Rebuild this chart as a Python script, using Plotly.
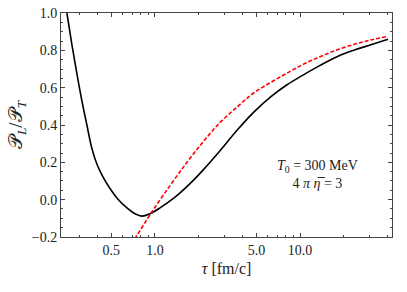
import plotly.graph_objects as go

# Black solid curve
tau_black = [0.247, 0.2677, 0.2898, 0.3138, 0.3397, 0.3677, 0.3981, 0.4378, 0.4895, 0.5556, 0.641, 0.7278,
             0.8134, 0.9237, 1.083, 1.374, 1.743, 2.143, 2.808, 3.678, 4.742, 6.211, 8.137, 10.49,
             13.74, 17.99, 23.95, 30.39, 40.45]
pl_pt_black = [1.0, 0.8286, 0.6727, 0.5273, 0.3974, 0.2727, 0.1896, 0.1221, 0.0597, 0.0026, -0.0442, -0.0753,
               -0.0883, -0.0753, -0.0442, 0.013, 0.0857, 0.1584, 0.2623, 0.3714, 0.4649, 0.5481, 0.6156, 0.6675,
               0.7195, 0.7662, 0.8026, 0.8286, 0.8597]

# Red dashed curve
tau_red = [0.651, 0.7396, 0.9237, 1.269, 1.662, 2.143, 2.808, 3.678, 4.742, 6.211, 8.137, 10.49,
           13.74, 17.99, 23.95, 30.39, 40.45]
pl_pt_red = [-0.262, -0.2, -0.0805, 0.0753, 0.2, 0.3091, 0.413, 0.4961, 0.5688, 0.626, 0.6779, 0.7247,
             0.7662, 0.8026, 0.8338, 0.8545, 0.8753]

x_ticks = [0.5, 1.0, 5.0, 10.0]
x_tick_labels = ["0.5", "1.0", "5.0", "10.0"]
x_minor = [0.3, 0.4, 0.6, 0.7, 0.8, 0.9, 2, 3, 4, 6, 7, 8, 9, 20, 30, 40]
y_ticks = [-0.2, 0.0, 0.2, 0.4, 0.6, 0.8, 1.0]
y_tick_labels = ["\u22120.2", "0.0", "0.2", "0.4", "0.6", "0.8", "1.0"]

fig = go.Figure()
fig.add_trace(go.Scatter(x=tau_black, y=pl_pt_black, mode="lines",
                         line=dict(color="black", width=1.6, shape="spline", smoothing=1.0)))
fig.add_trace(go.Scatter(x=tau_red, y=pl_pt_red, mode="lines",
                         line=dict(color="#ff0000", width=1.6, dash="4px,2px", shape="spline", smoothing=1.0)))

serif = "Liberation Serif"
axis_font = dict(family=serif, size=14, color="#222")
fig.update_xaxes(type="log", range=[-0.648, 1.634], tickvals=x_ticks, ticktext=x_tick_labels,
                 ticks="inside", ticklen=4, tickcolor="#444", showline=True, linecolor="#444",
                 linewidth=1, mirror="ticks", showgrid=False, zeroline=False, tickfont=axis_font,
                 ticklabeloverflow="allow",
                 minor=dict(tickvals=x_minor, ticks="inside", ticklen=2, tickcolor="#444", showgrid=False),
                 title=dict(text="<i>\u03c4</i> [fm/c]", font=dict(family=serif, size=16, color="#222"), standoff=6))
fig.update_yaxes(range=[-0.2001, 1.0001], tickvals=y_ticks, ticktext=y_tick_labels,
                 ticks="inside", ticklen=4, tickcolor="#444", showline=True, linecolor="#444",
                 linewidth=1, mirror="ticks", showgrid=False, zeroline=False, tickfont=axis_font,
                 ticklabeloverflow="allow",
                 minor=dict(dtick=0.05, tick0=0, ticks="inside", ticklen=2, tickcolor="#444", showgrid=False),
                 title=dict(text="\U0001D4AB<sub><i>L</i></sub>/\U0001D4AB<sub><i>T</i></sub>",
                            font=dict(family=serif, size=19, color="#222"), standoff=4))

fig.add_annotation(x=0.776, y=0.279, xref="paper", yref="paper", showarrow=False,
                   xanchor="center", yanchor="middle",
                   text="<i>T</i><sub>0</sub> = 300 MeV<br>4 <i>\u03c0</i> <i>\u03b7\u0305</i> = 3",
                   font=dict(family=serif, size=14, color="#222"), align="center")

fig.update_layout(width=407, height=292, margin=dict(l=61, r=15, t=6, b=55),
                  font=dict(family=serif, color="#222"),
                  paper_bgcolor="white", plot_bgcolor="white", showlegend=False)
fig.write_html("out.html", config={"displayModeBar": False},
               post_script="document.body.style.margin='0px';")
